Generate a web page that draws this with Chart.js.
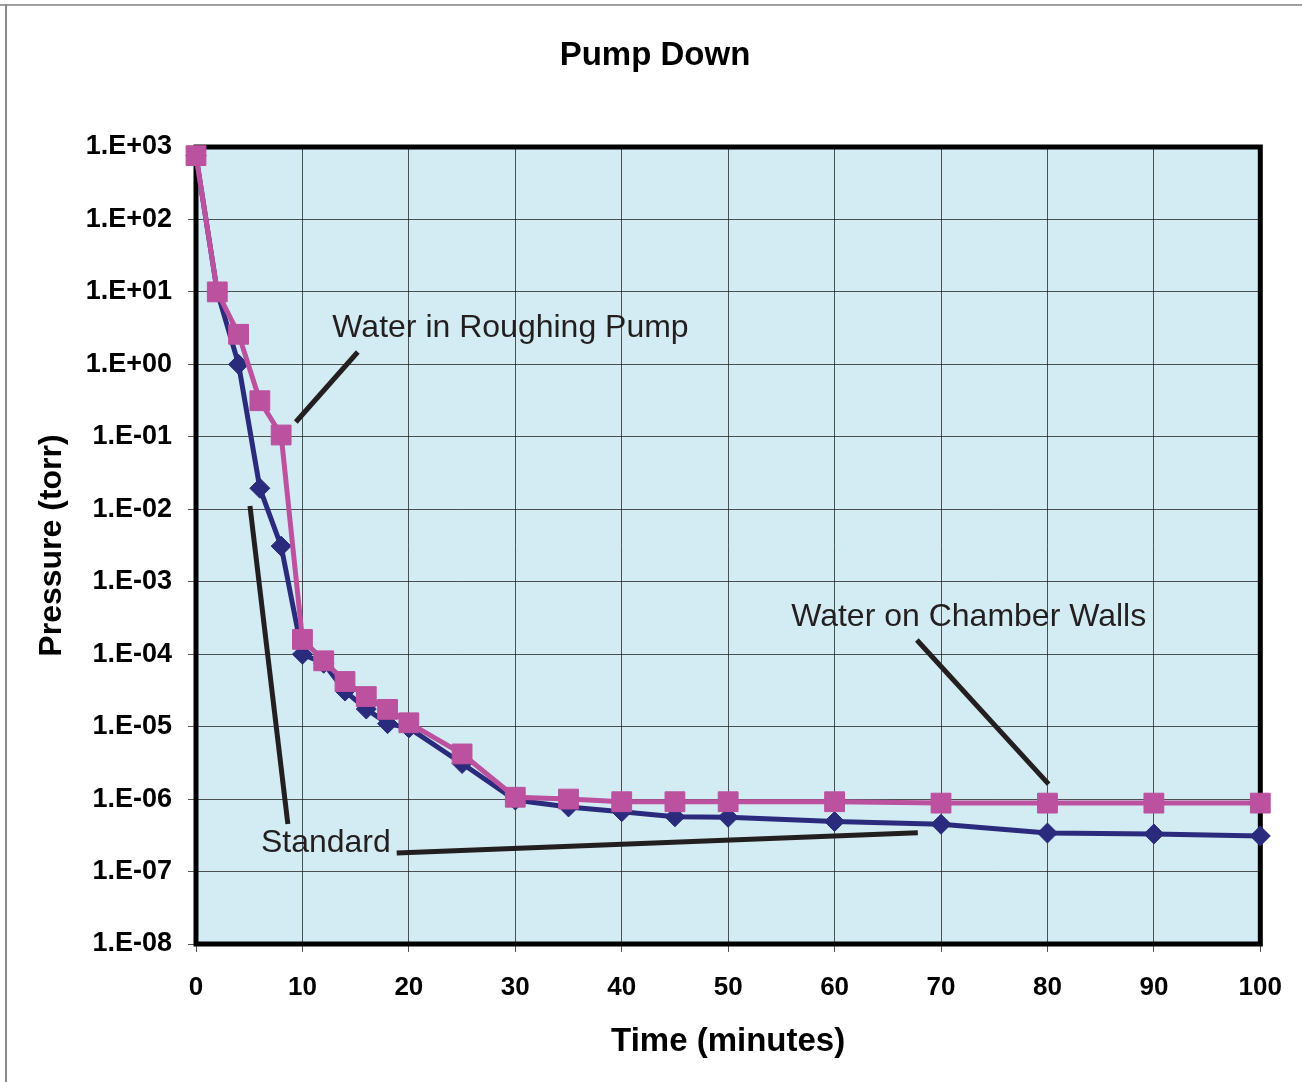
<!DOCTYPE html>
<html>
<head>
<meta charset="utf-8">
<script src="https://cdn.jsdelivr.net/npm/chart.js@4/dist/chart.umd.min.js"></script>
<style>
  html, body { margin: 0; padding: 0; background: #ffffff; }
  #wrap { width: 1302px; height: 1082px; position: relative; }
  canvas { display: block; }
</style>
</head>
<body>
<div id="wrap"><canvas id="c" width="1302" height="1082"></canvas></div>
<script>
// ---- data ----
const times = [0, 2, 4, 6, 8, 10, 12, 14, 16, 18, 20, 25, 30, 35, 40, 45, 50, 60, 70, 80, 90, 100];
const standardPressure = [760, 10, 1.0, 0.0195, 0.0031, 1.0e-4, 7.5e-5, 3.1e-5, 1.75e-5, 1.1e-5, 9.6e-6, 3.1e-6,
  9.7e-7, 7.8e-7, 6.7e-7, 5.7e-7, 5.6e-7, 4.9e-7, 4.5e-7, 3.4e-7, 3.3e-7, 3.1e-7];
const waterPressure = [760, 10, 2.6, 0.315, 0.106, 1.6e-4, 8.1e-5, 4.2e-5, 2.6e-5, 1.73e-5, 1.13e-5, 4.2e-6,
  1.06e-6, 1.0e-6, 9.2e-7, 9.2e-7, 9.2e-7, 9.2e-7, 8.8e-7, 8.8e-7, 8.8e-7, 8.8e-7];
const xTickValues = [0, 10, 20, 30, 40, 50, 60, 70, 80, 90, 100];
const xTickLabels = ['0', '10', '20', '30', '40', '50', '60', '70', '80', '90', '100'];
const yTickValues = [1e-8, 1e-7, 1e-6, 1e-5, 1e-4, 1e-3, 1e-2, 1e-1, 1e0, 1e1, 1e2, 1e3];
const yTickLabels = ['1.E-08', '1.E-07', '1.E-06', '1.E-05', '1.E-04', '1.E-03', '1.E-02', '1.E-01',
  '1.E+00', '1.E+01', '1.E+02', '1.E+03'];
const chartTitle = 'Pump Down';
const xTitle = 'Time (minutes)';
const yTitle = 'Pressure (torr)';

// annotation labels (text + leader lines, in data coordinates)
const annotationTexts = [
  { text: 'Water in Roughing Pump', x: 29.55, y: 3.18 },
  { text: 'Water on Chamber Walls', x: 72.6, y: 3.26e-4 },
  { text: 'Standard', x: 12.2, y: 2.47e-7 }
];
const annotationLines = [
  [[15.2, 1.48], [9.38, 0.16]],
  [[67.73, 1.57e-4], [80.11, 1.61e-6]],
  [[5.07, 0.0111], [8.63, 4.53e-7]],
  [[18.86, 1.8e-7], [67.82, 3.44e-7]]
];

const FONT = '"Liberation Sans", Arial, Helvetica, sans-serif';

const framePlugin = {
  id: 'framePlugin',
  beforeDraw(chart) {
    const ctx = chart.ctx;
    const a = chart.chartArea;
    ctx.save();
    ctx.fillStyle = '#ffffff';
    ctx.fillRect(0, 0, chart.width, chart.height);
    ctx.fillStyle = '#a0a0a0';
    ctx.fillRect(0, 4, chart.width, 2);
    ctx.fillStyle = '#8a8a8a';
    ctx.fillRect(5, 4, 2, chart.height - 4);
    ctx.fillStyle = '#d3ebf2';
    ctx.fillRect(a.left, a.top, a.right - a.left, a.bottom - a.top);
    ctx.restore();
  },
  beforeDatasetsDraw(chart) {
    const ctx = chart.ctx;
    const a = chart.chartArea;
    ctx.save();
    ctx.strokeStyle = '#000000';
    ctx.lineWidth = 5;
    ctx.strokeRect(a.left, a.top, a.right - a.left, a.bottom - a.top);
    ctx.restore();
  },
  afterDatasetsDraw(chart) {
    const ctx = chart.ctx;
    const xs = chart.scales.x, ys = chart.scales.y;
    ctx.save();
    ctx.strokeStyle = '#231f20';
    ctx.lineWidth = 5;
    ctx.lineCap = 'butt';
    annotationLines.forEach(seg => {
      ctx.beginPath();
      ctx.moveTo(xs.getPixelForValue(seg[0][0]), ys.getPixelForValue(seg[0][1]));
      ctx.lineTo(xs.getPixelForValue(seg[1][0]), ys.getPixelForValue(seg[1][1]));
      ctx.stroke();
    });
    ctx.fillStyle = '#231f20';
    ctx.font = '32px ' + FONT;
    ctx.textAlign = 'center';
    ctx.textBaseline = 'middle';
    annotationTexts.forEach(t => {
      ctx.fillText(t.text, xs.getPixelForValue(t.x), ys.getPixelForValue(t.y));
    });
    ctx.restore();
  }
};

const toPoints = (ys) => times.map((t, i) => ({ x: t, y: ys[i] }));

new Chart(document.getElementById('c'), {
  type: 'line',
  data: {
    datasets: [
      {
        label: 'Standard',
        data: toPoints(standardPressure),
        borderColor: '#2a2b7c',
        backgroundColor: '#2a2b7c',
        borderWidth: 5,
        pointStyle: 'rectRot',
        pointRadius: 10,
        pointBorderWidth: 1,
        pointBorderColor: '#2a2b7c',
        pointBackgroundColor: '#2a2b7c',
        tension: 0,
        clip: false,
        order: 1
      },
      {
        label: 'Water',
        data: toPoints(waterPressure),
        borderColor: '#bb519f',
        backgroundColor: '#bb519f',
        borderWidth: 5,
        pointStyle: 'rect',
        pointRadius: 14,
        pointBorderWidth: 1,
        pointBorderColor: '#bb519f',
        pointBackgroundColor: '#bb519f',
        tension: 0,
        clip: false,
        order: 0
      }
    ]
  },
  options: {
    responsive: false,
    devicePixelRatio: 1,
    animation: false,
    layout: { padding: { left: 8, right: 0, top: 0, bottom: 0 } },
    plugins: {
      legend: { display: false },
      tooltip: { enabled: false },
      title: {
        display: true,
        text: chartTitle,
        color: '#000000',
        font: { family: FONT, size: 33, weight: 'bold', lineHeight: 1.2 },
        padding: { top: 36, bottom: 71.4 }
      }
    },
    scales: {
      x: {
        type: 'linear',
        min: 0,
        max: 100,
        afterBuildTicks: (s) => { s.ticks = xTickValues.map(v => ({ value: v })); },
        afterFit: (s) => { s.height = 138; },
        border: { display: false },
        grid: {
          color: 'rgba(30,30,30,0.75)',
          lineWidth: 1,
          drawTicks: true,
          tickLength: 8,
          tickColor: 'rgba(30,30,30,0.75)'
        },
        ticks: {
          autoSkip: false,
          maxRotation: 0,
          padding: 20,
          color: '#000000',
          font: { family: FONT, size: 26, weight: 'bold' },
          callback: (v) => { const i = xTickValues.indexOf(v); return i >= 0 ? xTickLabels[i] : ''; }
        },
        title: {
          display: true,
          text: xTitle,
          color: '#000000',
          font: { family: FONT, size: 33, weight: 'bold', lineHeight: 1.2 },
          padding: { top: 0, bottom: 20 }
        }
      },
      y: {
        type: 'logarithmic',
        min: 1e-8,
        max: 1e3,
        afterBuildTicks: (s) => { s.ticks = yTickValues.map(v => ({ value: v })); },
        afterFit: (s) => { s.width = 188; },
        border: { display: false },
        grid: {
          color: 'rgba(30,30,30,0.75)',
          lineWidth: 1,
          drawTicks: true,
          tickLength: 8,
          tickColor: 'rgba(30,30,30,0.75)'
        },
        ticks: {
          autoSkip: false,
          padding: 16,
          color: '#000000',
          font: { family: FONT, size: 27, weight: 'bold' },
          callback: (v) => { const i = yTickValues.indexOf(v); return i >= 0 ? yTickLabels[i] : ''; }
        },
        title: {
          display: true,
          text: yTitle,
          color: '#000000',
          font: { family: FONT, size: 32, weight: 'bold', lineHeight: 1.2 },
          padding: { top: 25, bottom: 0 }
        }
      },
      yRight: {
        type: 'linear',
        position: 'right',
        display: true,
        afterFit: (s) => { s.width = 40; },
        border: { display: false },
        grid: { display: false, drawTicks: false },
        ticks: { display: false },
        title: { display: false }
      }
    }
  },
  plugins: [framePlugin]
});
</script>
</body>
</html>
